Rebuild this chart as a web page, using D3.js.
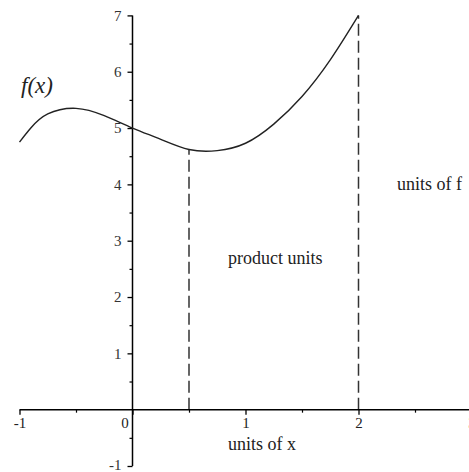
<!DOCTYPE html>
<html>
<head>
<meta charset="utf-8">
<script src="https://cdn.jsdelivr.net/npm/d3@7"></script>
<style>
html,body{margin:0;padding:0;background:#fff;}
svg{display:block;}
text{font-family:"Liberation Serif","DejaVu Serif",serif;}
</style>
</head>
<body>
<svg id="chart" width="469" height="472"></svg>
<script>
// ---- data ----
const curveX = [-1, -0.9, -0.75, -0.5, -0.25, 0, 0.25, 0.5, 0.75, 1, 1.25, 1.5, 1.75, 2];
const curveY = [4.75, 5.0, 5.25, 5.35, 5.22, 5.0, 4.8, 4.62, 4.6, 4.73, 5.07, 5.56, 6.21, 7.0];
const dashX = [0.5, 2];
const xTickValues = [-1, 0, 1, 2, 3];
const xTickLabels = ["-1", "0", "1", "2", "3"];
const xMinorTicks = [-0.5, 0.5, 1.5, 2.5];
const yTickValues = [-1, 1, 2, 3, 4, 5, 6, 7];
const yTickLabels = ["-1", "1", "2", "3", "4", "5", "6", "7"];
const yMinorTicks = [-0.5, 0.5, 1.5, 2.5, 3.5, 4.5, 5.5, 6.5];
const labels = ["f(x)", "units of f", "product units", "units of x"];

// ---- scales ----
const svg = d3.select("#chart");
const x = d3.scaleLinear().domain([-1, 3]).range([19.5, 471.5]);
const y = d3.scaleLinear().domain([-1, 7]).range([466, 15.4]);

const pts = curveX.map((v, i) => [v, curveY[i]]);

// dashed verticals
svg.selectAll("line.dash").data(dashX).enter().append("line")
  .attr("class", "dash")
  .attr("x1", d => x(d)).attr("x2", d => x(d))
  .attr("y1", y(0))
  .attr("y2", d => y(curveY[curveX.indexOf(d)]))
  .attr("stroke", "#333").attr("stroke-width", 1.5)
  .attr("stroke-dasharray", "12,5");

// x axis
const xAxis = d3.axisBottom(x).tickValues(xTickValues)
  .tickFormat((d, i) => xTickLabels[i]).tickSize(5).tickPadding(3);
const gx = svg.append("g").attr("transform", `translate(0,${y(0)})`).call(xAxis);
gx.select(".domain").attr("stroke", "#000").attr("stroke-width", 1.5)
  .attr("d", `M${x(-1)},0H469`);
gx.selectAll(".tick line").attr("stroke", "#000").attr("stroke-width", 1.3);
gx.selectAll(".tick text").attr("font-size", 15).attr("fill", "#222");
gx.selectAll(".tick").filter(d => d === 0).select("text").attr("dx", -8);
const gxm = d3.axisBottom(x).tickValues(xMinorTicks).tickSize(3).tickFormat("");
const gxMinor = svg.append("g").attr("transform", `translate(0,${y(0)})`).call(gxm);
gxMinor.select(".domain").remove();
gxMinor.selectAll(".tick line").attr("stroke", "#000").attr("stroke-width", 1.2);

// y axis
const yAxis = d3.axisLeft(y).tickValues(yTickValues)
  .tickFormat((d, i) => yTickLabels[i]).tickSize(5).tickPadding(6);
const gy = svg.append("g").attr("transform", `translate(${x(0)},0)`).call(yAxis);
gy.select(".domain").attr("stroke", "#000").attr("stroke-width", 1.5)
  .attr("d", `M0,${y(7)}V${y(-1)}`);
gy.selectAll(".tick line").attr("stroke", "#000").attr("stroke-width", 1.3);
gy.selectAll(".tick text").attr("font-size", 15).attr("fill", "#333");
gy.selectAll(".tick").filter(d => d === -1).select("text").attr("dy", "0.2em");
const gym = d3.axisLeft(y).tickValues(yMinorTicks).tickSize(3).tickFormat("");
const gyMinor = svg.append("g").attr("transform", `translate(${x(0)},0)`).call(gym);
gyMinor.select(".domain").remove();
gyMinor.selectAll(".tick line").attr("stroke", "#000").attr("stroke-width", 1.2);

// curve
const line = d3.line().x(d => x(d[0])).y(d => y(d[1])).curve(d3.curveNatural);
svg.append("path").datum(pts).attr("d", line)
  .attr("fill", "none").attr("stroke", "#222").attr("stroke-width", 1.4);

// labels
svg.append("text").attr("x", 21).attr("y", 93).attr("font-size", 23)
  .attr("font-style", "italic").attr("fill", "#222").text(labels[0]);
svg.append("text").attr("x", 397).attr("y", 190).attr("font-size", 18)
  .attr("fill", "#222").text(labels[1]);
svg.append("text").attr("x", 228).attr("y", 264).attr("font-size", 18)
  .attr("fill", "#222").text(labels[2]);
svg.append("text").attr("x", 262).attr("y", 450).attr("font-size", 18)
  .attr("text-anchor", "middle").attr("fill", "#222").text(labels[3]);
</script>
</body>
</html>
